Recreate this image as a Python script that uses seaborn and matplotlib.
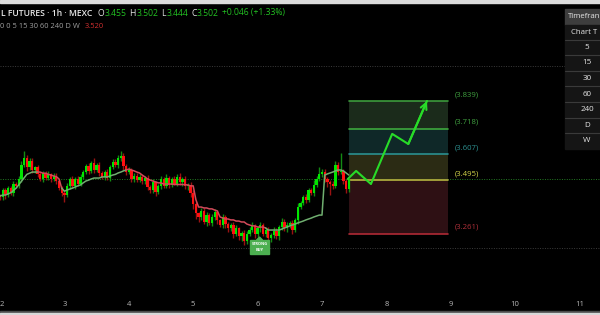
import matplotlib
matplotlib.use("Agg")
import matplotlib.pyplot as plt
import seaborn as sns
import pandas as pd
from matplotlib.patches import Rectangle, Polygon
from matplotlib.transforms import blended_transform_factory

# ---------------- data ----------------
start_day = 2.0
candles_per_day = 24
first_open = 3.425
closes = [
    3.42, 3.45, 3.43, 3.46, 3.44, 3.48, 3.47, 3.50, 3.56, 3.59, 3.55, 3.58, 3.54, 3.55, 3.52, 3.50, 3.525, 3.505, 3.52, 3.50, 3.515, 3.49, 3.46, 3.44,
    3.43, 3.47, 3.50, 3.47, 3.50, 3.48, 3.51, 3.53, 3.555, 3.535, 3.57, 3.54, 3.56, 3.525, 3.51, 3.53, 3.505, 3.55, 3.575, 3.56, 3.59, 3.60, 3.555, 3.53,
    3.54, 3.50, 3.515, 3.495, 3.51, 3.49, 3.505, 3.465, 3.45, 3.485, 3.445, 3.47, 3.50, 3.47, 3.505, 3.475, 3.50, 3.48, 3.51, 3.485, 3.50, 3.47, 3.475, 3.44,
    3.39, 3.35, 3.335, 3.36, 3.315, 3.345, 3.31, 3.335, 3.355, 3.32, 3.30, 3.335, 3.305, 3.285, 3.30, 3.26, 3.285, 3.25, 3.265, 3.23, 3.26, 3.28, 3.295, 3.26,
    3.285, 3.30, 3.26, 3.28, 3.245, 3.255, 3.275, 3.25, 3.29, 3.315, 3.285, 3.30, 3.31, 3.28, 3.32, 3.38, 3.395, 3.42, 3.41, 3.45, 3.44, 3.475, 3.50, 3.52,
    3.53, 3.50, 3.485, 3.48, 3.47, 3.56, 3.53, 3.535, 3.49, 3.455, 3.502,
]
upper_wicks = [
    0.008, 0.01, 0.012, 0.008, 0.01, 0.012, 0.008, 0.015, 0.02, 0.03, 0.015, 0.012, 0.01, 0.008, 0.012, 0.01, 0.008, 0.01, 0.015, 0.008, 0.01, 0.012, 0.008, 0.01,
    0.01, 0.012, 0.008, 0.015, 0.01, 0.012, 0.01, 0.008, 0.012, 0.015, 0.01, 0.02, 0.008, 0.012, 0.01, 0.008, 0.015, 0.01, 0.012, 0.01, 0.015, 0.02, 0.012, 0.01,
    0.012, 0.008, 0.01, 0.012, 0.01, 0.008, 0.01, 0.012, 0.01, 0.015, 0.008, 0.01, 0.012, 0.01, 0.015, 0.008, 0.01, 0.012, 0.01, 0.015, 0.01, 0.012, 0.008, 0.01,
    0.01, 0.012, 0.008, 0.015, 0.012, 0.01, 0.008, 0.012, 0.015, 0.01, 0.008, 0.012, 0.01, 0.008, 0.01, 0.012, 0.015, 0.008, 0.01, 0.012, 0.015, 0.01, 0.02, 0.01,
    0.012, 0.015, 0.01, 0.008, 0.012, 0.01, 0.015, 0.012, 0.01, 0.015, 0.01, 0.012, 0.008, 0.01, 0.012, 0.015, 0.01, 0.012, 0.015, 0.01, 0.012, 0.02, 0.015, 0.03,
    0.015, 0.012, 0.01, 0.012, 0.01, 0.02, 0.012, 0.078, 0.01, 0.012, 0.0,
]
lower_wicks = [
    0.012, 0.01, 0.015, 0.008, 0.01, 0.012, 0.008, 0.01, 0.012, 0.01, 0.015, 0.01, 0.012, 0.015, 0.01, 0.008, 0.012, 0.01, 0.008, 0.015, 0.01, 0.012, 0.01, 0.015,
    0.03, 0.01, 0.012, 0.008, 0.015, 0.01, 0.012, 0.01, 0.008, 0.012, 0.01, 0.015, 0.01, 0.012, 0.008, 0.015, 0.01, 0.012, 0.008, 0.01, 0.012, 0.01, 0.015, 0.012,
    0.01, 0.012, 0.015, 0.01, 0.008, 0.012, 0.01, 0.015, 0.012, 0.01, 0.02, 0.01, 0.012, 0.008, 0.01, 0.015, 0.01, 0.008, 0.012, 0.01, 0.015, 0.012, 0.02, 0.018,
    0.02, 0.025, 0.02, 0.015, 0.012, 0.02, 0.01, 0.015, 0.012, 0.015, 0.01, 0.012, 0.02, 0.015, 0.012, 0.018, 0.01, 0.015, 0.02, 0.015, 0.012, 0.01, 0.012, 0.015,
    0.012, 0.015, 0.01, 0.012, 0.015, 0.02, 0.012, 0.01, 0.015, 0.012, 0.01, 0.015, 0.012, 0.02, 0.01, 0.015, 0.012, 0.01, 0.015, 0.012, 0.01, 0.015, 0.012, 0.01,
    0.01, 0.015, 0.02, 0.05, 0.015, 0.01, 0.012, 0.01, 0.012, 0.015, 0.011,
]
trail = [
    3.426, 3.43, 3.43, 3.435, 3.44, 3.45, 3.46, 3.475, 3.49, 3.505, 3.52, 3.525, 3.53, 3.53, 3.53,
    3.53, 3.525, 3.525, 3.52, 3.517, 3.513, 3.51, 3.50, 3.46,
    3.447, 3.452, 3.456, 3.46, 3.465, 3.47, 3.474, 3.483, 3.491, 3.495, 3.50, 3.504, 3.504, 3.504, 3.509, 3.509, 3.509,
    3.513, 3.517, 3.52, 3.526, 3.53, 3.535, 3.539,
    3.543, 3.539, 3.535, 3.53, 3.526, 3.517, 3.509, 3.50, 3.495, 3.491, 3.487, 3.483, 3.483, 3.478, 3.478,
    3.478, 3.478, 3.476, 3.476, 3.476, 3.476, 3.475, 3.474, 3.47, 3.47, 3.41, 3.378,
    3.378, 3.374, 3.374, 3.37, 3.37, 3.365, 3.361, 3.335,
    3.33, 3.326, 3.326, 3.322, 3.322, 3.317, 3.317, 3.313, 3.313,
    3.304, 3.30, 3.296, 3.296, 3.291, 3.291, 3.291, 3.287,
    3.278, 3.278, 3.278, 3.278, 3.278, 3.282, 3.287, 3.291, 3.296, 3.30, 3.304,
    3.309, 3.313, 3.317, 3.322, 3.326, 3.33, 3.335, 3.339, 3.343, 3.343,
    3.517, 3.522, 3.526, 3.53, 3.535, 3.539, 3.539, 3.535, 3.526, 3.517,
]
trail_runs = [(15, "up"), (9, "down"), (24, "up"), (52, "down"), (31, "up")]

current_price = 3.502
grid_prices = [3.99, 3.20]

levels = [3.839, 3.718, 3.607, 3.495, 3.261]
level_labels = ["(3.839)", "(3.718)", "(3.607)", "(3.495)", "(3.261)"]
box_start, box_end = 7.417, 8.957

arrow_days = [7.40, 7.53, 7.76, 8.09, 8.34, 8.63]
arrow_prices = [3.500, 3.535, 3.478, 3.696, 3.652, 3.839]

signal_day, signal_price = 6.03, 3.204

x_ticks = [2, 3, 4, 5, 6, 7, 8, 9, 10, 11]
timeframes = ["5", "15", "30", "60", "240", "D", "W"]

# ---------------- style ----------------
sns.set_theme(style="dark")
plt.rcParams["font.family"] = ["Open Sans", "DejaVu Sans"]

W, H = 600, 315
fig = plt.figure(figsize=(6, 3.15), dpi=100, facecolor="black")
ax = fig.add_axes([0, 0, 1, 1])
ax.set_facecolor("black")
px_per_day = 64.4
ax.set_xlim(start_day, start_day + W / px_per_day)
ax.set_ylim(3.839 - (H - 101) / 230, 3.839 + 101 / 230)
ax.axis("off")

n = len(closes)
opens = [first_open] + closes[:-1]
t = [start_day + i / candles_per_day for i in range(n)]
highs = [max(o, c) + u for o, c, u in zip(opens, closes, upper_wicks)]
lows = [min(o, c) - l for o, c, l in zip(opens, closes, lower_wicks)]
up = [c >= o for o, c in zip(opens, closes)]

# grid / price lines
for g in grid_prices:
    ax.axhline(g, color="#3c3c3c", lw=0.7, ls=(0, (1, 1.5)),
               xmax=(565 / W) if g > 3.9 else 1, zorder=1)
ax.axhline(current_price, color="#237a23", lw=0.7, ls=(0, (1, 1.5)), zorder=1)

# position box
band_colors = ["#1b2b1b", "#0f2828", "#2b2b14", "#2e1014"]
for i in range(4):
    ax.fill_between([box_start, box_end], levels[i + 1], levels[i],
                    color=band_colors[i], lw=0, zorder=2)
line_colors = ["#3c9a3c", "#3da83d", "#2a9090", "#b5b540", "#b02a35"]
label_colors = ["#3f9f3f", "#3f9f3f", "#2d9090", "#d4d44a", "#b0303a"]
for lv, lc, lab, tc in zip(levels, line_colors, level_labels, label_colors):
    ax.plot([box_start, box_end], [lv, lv], color=lc, lw=1.2, zorder=3)
    ax.text(start_day + 455 / px_per_day, lv + 0.028, lab, color=tc,
            fontsize=5.6, va="center", ha="left", zorder=5)

# candles
bw = 0.85 / candles_per_day
for i in range(n):
    wc = "#138a13" if up[i] else "#9a1212"
    ax.vlines(t[i], lows[i], highs[i], color=wc, lw=1.0, zorder=4)
for i in range(n):
    bc = "#00e600" if up[i] else "#ff1010"
    hgt = max(abs(closes[i] - opens[i]), 0.003)
    ax.bar(t[i], hgt, bottom=min(opens[i], closes[i]), width=bw, color=bc,
           lw=0, zorder=5)

# trailing line
idx = 0
for length, trend in trail_runs:
    a = max(idx - 1, 0)
    b = idx + length
    seg = pd.DataFrame({"t": t[a:b], "p": trail[a:b]})
    sns.lineplot(data=seg, x="t", y="p", ax=ax, sort=False, lw=1.1,
                 color="#6fae6f" if trend == "up" else "#d24a5a", zorder=6)
    idx = b

# projection arrow
arr = pd.DataFrame({"d": arrow_days, "p": arrow_prices})
sns.lineplot(data=arr, x="d", y="p", ax=ax, sort=False, lw=1.5,
             color="#28dc28", zorder=7)
ax.annotate("", xy=(arrow_days[-1], arrow_prices[-1]),
            xytext=(arrow_days[-2], arrow_prices[-2]),
            arrowprops=dict(arrowstyle="->", color="#28dc28", lw=1.5,
                            mutation_scale=11, shrinkA=0, shrinkB=0), zorder=7)

# strong buy label
bwid, bhgt = 19 / px_per_day, 14 / 230
ax.add_patch(Rectangle((signal_day - bwid / 2, signal_price - bhgt / 2), bwid, bhgt,
                       color="#4caf50", zorder=8))
ax.add_patch(Polygon([(signal_day - 3 / px_per_day, signal_price + bhgt / 2),
                      (signal_day + 3 / px_per_day, signal_price + bhgt / 2),
                      (signal_day, signal_price + bhgt / 2 + 3 / 230)],
                     closed=True, color="#4caf50", zorder=8))
ax.text(signal_day, signal_price + 0.012, "STRONG", color="white", fontsize=2.8,
        ha="center", va="center", fontweight="bold", zorder=9)
ax.text(signal_day, signal_price - 0.014, "BUY", color="white", fontsize=2.8,
        ha="center", va="center", fontweight="bold", zorder=9)

ax.set_xlabel("")
ax.set_ylabel("")

# x tick labels
tr = blended_transform_factory(ax.transData, ax.transAxes)
for d in x_ticks:
    ax.text(d, 1 - 304 / H, str(d), transform=tr, color="#b8b8b8",
            fontsize=5.5, ha="left" if d == x_ticks[0] else "center",
            va="center", zorder=9)

# ---------------- overlay (pixel coords) ----------------
ov = fig.add_axes([0, 0, 1, 1], zorder=10)
ov.set_xlim(0, W)
ov.set_ylim(H, 0)
ov.axis("off")
ov.patch.set_alpha(0)

ov.add_patch(Rectangle((0, 0), W, 3, color="#dcdcdc"))
ov.add_patch(Rectangle((0, 310.5), W, 2, color="#4a4a4a"))
ov.add_patch(Rectangle((0, 312.5), W, 3, color="#d8d8d8"))

renderer = fig.canvas.get_renderer()


def seq(x, y, pieces, size):
    for s, col, w, gap in pieces:
        tx = ov.text(x, y, s, color=col, fontsize=size, va="center", ha="left",
                     fontweight=w)
        bb = tx.get_window_extent(renderer=renderer)
        x += bb.width + gap


G = "#22c022"
Wt = "#e6e6e6"
seq(1, 13, [("L FUTURES · 1h · MEXC", Wt, "semibold", 5),
            ("O", Wt, "normal", 0.5), ("3.455", G, "normal", 3),
            ("H", Wt, "normal", 0.5), ("3.502", G, "normal", 3),
            ("L", Wt, "normal", 0.5), ("3.444", G, "normal", 3),
            ("C", Wt, "normal", 0.5), ("3.502", G, "normal", 3),
            ("+0.046 (+1.33%)", G, "normal", 0)], 6.2)
seq(0, 27, [("0 0 5 15 30 60 240 D W", "#a0a0a0", "normal", 5),
            ("3.520", "#d43030", "normal", 0)], 5.4)

# timeframe table
ov.add_patch(Rectangle((565, 9), 40, 15.5, color="#3d3d3d"))
ov.add_patch(Rectangle((565, 24.5), 40, 124.5, color="#151515"))
ov.text(568, 16.8, "Timefran", color=Wt, fontsize=5.6, va="center", ha="left")
ov.text(571, 32, "Chart T", color=Wt, fontsize=5.6, va="center", ha="left")
row_top = 39.5
for k, tf in enumerate(timeframes):
    y0 = row_top + k * 15.6
    ov.plot([565, 600], [y0, y0], color="#3a3a3a", lw=0.8)
    ov.text(587, y0 + 7.8, tf, color=Wt, fontsize=5.8, va="center", ha="center")

fig.savefig("out.png", dpi=100, facecolor="black")
